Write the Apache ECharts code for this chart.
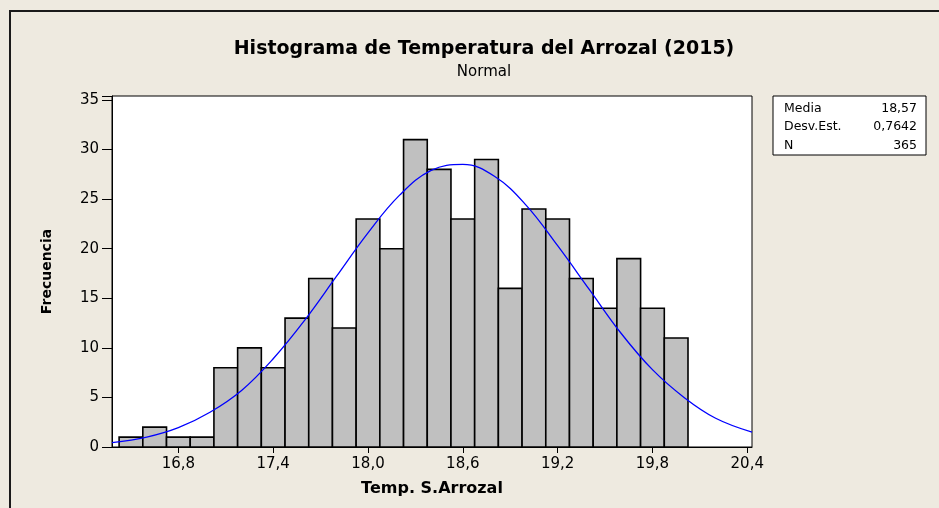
<!DOCTYPE html>
<html>
<head>
<meta charset="utf-8">
<script src="https://cdn.jsdelivr.net/npm/echarts@6/dist/echarts.min.js"></script>
<style>
  html, body { margin: 0; padding: 0; background: #EEEAE0; }
  #chart { width: 939px; height: 508px; }
</style>
</head>
<body>
<div id="chart"></div>
<script>
// datos del histograma (centros de clase y frecuencias)
var binCenters = [16.50, 16.65, 16.80, 16.95, 17.10, 17.25, 17.40, 17.55, 17.70, 17.85, 18.00, 18.15,
                  18.30, 18.45, 18.60, 18.75, 18.90, 19.05, 19.20, 19.35, 19.50, 19.65, 19.80, 19.95];
var binWidth = 0.15;
var counts = [1, 2, 1, 1, 8, 10, 8, 13, 17, 12, 23, 20, 31, 28, 23, 29, 16, 24, 23, 17, 14, 19, 14, 11];

// curva normal ajustada
var curveX = [16.38, 16.6, 16.8, 17.0, 17.2, 17.4, 17.6, 17.8, 18.0, 18.2, 18.4, 18.6,
              18.8, 19.0, 19.2, 19.4, 19.6, 19.8, 20.0, 20.2, 20.43];
var curveY = [0.45, 1.0, 1.95, 3.5, 5.7, 8.9, 12.8, 17.2, 21.6, 25.4, 27.9, 28.5,
              27.3, 24.4, 20.3, 15.9, 11.5, 7.8, 5.0, 2.9, 1.5];

var xTicks = [16.8, 17.4, 18.0, 18.6, 19.2, 19.8, 20.4];
var statLabels = ['Media', 'Desv.Est.', 'N'];
var statValues = ['18,57', '0,7642', '365'];

var myChart = echarts.init(document.getElementById('chart'));

var font = 'DejaVu Sans';

// cuadro de estadisticas
var statTexts = [];
statLabels.forEach(function (s, i) {
  statTexts.push({ type: 'text', left: 784, top: 102 + i * 18.5,
    style: { text: s, font: '12.5px "' + font + '"', fill: '#000' } });
  statTexts.push({ type: 'text', right: 939 - 917, top: 102 + i * 18.5,
    style: { text: statValues[i], font: '12.5px "' + font + '"', fill: '#000', textAlign: 'right' } });
});

var option = {
  backgroundColor: '#EEEAE0',
  animation: false,
  title: [{
    text: 'Histograma de Temperatura del Arrozal (2015)',
    left: 479, top: 35, textAlign: 'center',
    textStyle: { fontFamily: font, fontSize: 19, fontWeight: 'bold', color: '#000' }
  }, {
    text: 'Normal',
    left: 479, top: 60, textAlign: 'center',
    textStyle: { fontFamily: font, fontSize: 15, fontWeight: 'normal', color: '#000' }
  }],
  grid: {
    left: 112, right: 187, top: 96, bottom: 61,
    show: true, backgroundColor: '#fff', borderColor: '#000', borderWidth: 1
  },
  xAxis: {
    type: 'value', min: 16.38, max: 20.43,
    name: 'Temp. S.Arrozal', nameLocation: 'middle', nameGap: 34,
    nameTextStyle: { fontFamily: font, fontSize: 16, fontWeight: 'bold', color: '#000' },
    axisLine: { show: true, lineStyle: { color: '#000', width: 1 } },
    axisTick: { show: true, customValues: xTicks, length: 6, lineStyle: { color: '#000' } },
    axisLabel: {
      customValues: xTicks, margin: 10,
      fontFamily: font, fontSize: 15, color: '#000',
      formatter: function (v) { return v.toFixed(1).replace('.', ','); }
    },
    splitLine: { show: false }
  },
  yAxis: {
    type: 'value', min: 0, max: 35.4, interval: 5,
    name: 'Frecuencia', nameLocation: 'middle', nameGap: 58, nameRotate: 90,
    nameTextStyle: { fontFamily: font, fontSize: 14, fontWeight: 'bold', color: '#000' },
    axisLine: { show: true, lineStyle: { color: '#000', width: 1 } },
    axisTick: { show: true, length: 10, lineStyle: { color: '#000' } },
    axisLabel: {
      fontFamily: font, fontSize: 15, color: '#000', margin: 13,
      formatter: function (v) { return v % 5 === 0 ? String(v) : ''; }
    },
    splitLine: { show: false }
  },
  series: [{
    type: 'custom',
    data: binCenters.map(function (c, i) { return [c, counts[i]]; }),
    renderItem: function (params, api) {
      var p0 = api.coord([api.value(0) - binWidth / 2, api.value(1)]);
      var p1 = api.coord([api.value(0) + binWidth / 2, 0]);
      return {
        type: 'rect',
        shape: { x: p0[0], y: p0[1], width: p1[0] - p0[0], height: p1[1] - p0[1] },
        style: { fill: '#C0C0C0', stroke: '#000', lineWidth: 1.6 }
      };
    },
    z: 2
  }, {
    type: 'line',
    data: curveX.map(function (x, i) { return [x, curveY[i]]; }),
    smooth: 0.4,
    showSymbol: false,
    lineStyle: { color: '#0000FF', width: 1.3 },
    z: 3
  }],
  graphic: [{
    type: 'polyline',
    shape: { points: [[10, 508], [10, 11], [939, 11]] },
    style: { stroke: '#1a1a1a', lineWidth: 2, fill: null }
  }, {
    type: 'rect',
    shape: { x: 773, y: 96, width: 153, height: 59 },
    style: { fill: '#fff', stroke: '#000', lineWidth: 1 }
  }].concat(statTexts)
};

myChart.setOption(option);
</script>
</body>
</html>
